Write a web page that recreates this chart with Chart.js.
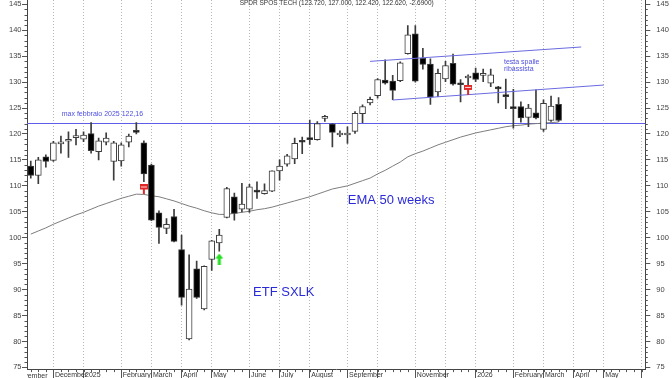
<!DOCTYPE html>
<html><head><meta charset="utf-8">
<script src="https://cdn.jsdelivr.net/npm/chart.js@4.4.1/dist/chart.umd.min.js"></script>
<style>html,body{margin:0;padding:0;background:#fff;}#wrap{width:672px;height:378px;position:relative;overflow:hidden;}</style>
</head><body><div id="wrap"><canvas id="c" width="672" height="378"></canvas></div>
<script>
// ---- data (weekly candles) ----
const openV  = [113.8,112.0,115.6,114.9,118.1,118.6,119.3,119.0,120.1,116.6,118.4,114.7,114.8,118.4,120.6,118.3,114.0,104.8,101.8,104.1,97.7,80.5,94.0,86.3,95.8,99.0,103.9,107.9,105.5,105.5,109.2,108.5,109.0,112.9,114.2,115.2,118.7,119.3,118.9,123.0,121.9,119.8,119.8,120.5,123.9,126.0,127.4,130.4,130.2,130.3,135.5,139.3,134.6,133.5,128.1,130.6,133.6,129.6,130.8,131.8,131.3,129.8,128.9,127.3,124.95,125.3,123.2,124.1,120.9,122.6,125.7];
const highV  = [114.8,115.5,116.0,118.6,119.6,120.4,120.9,120.4,122.2,119.2,120.2,118.6,118.3,120.0,122.2,118.7,114.2,105.2,103.7,105.5,100.5,96.7,95.5,94.6,99.5,101.6,109.7,108.6,110.5,110.3,110.8,110.4,112.9,115.0,116.1,119.2,119.4,122.7,122.4,123.6,122.0,120.6,121.4,124.3,125.6,127.1,130.7,134.3,131.3,133.9,140.9,140.9,136.5,134.5,132.5,134.0,135.4,130.5,131.4,132.7,132.5,132.5,129.2,130.6,128.6,126.2,125.7,128.5,126.6,127.3,127.0];
const lowV   = [111.5,110.4,113.6,114.7,116.3,115.5,117.9,118.5,116.3,115.0,117.9,111.1,113.8,117.5,120.0,110.8,103.3,98.9,100.8,99.2,87.0,80.3,88.3,86.1,93.7,97.4,103.8,103.4,105.0,104.9,107.6,108.4,108.9,111.1,113.8,114.3,116.2,118.0,118.8,122.4,117.5,119.5,118.2,120.1,122.2,125.6,126.9,129.6,126.6,130.1,135.4,130.0,132.5,125.7,127.2,130.1,129.4,126.2,128.5,130.1,130.1,129.1,126.0,124.9,121.1,122.3,121.4,122.9,120.5,122.4,122.4];
const closeV = [112.0,115.0,114.7,118.3,118.4,118.8,119.5,119.8,116.8,118.7,119.2,118.3,117.9,119.6,120.3,112.3,103.4,102.0,102.6,99.3,88.5,90.1,88.5,94.5,99.4,100.5,109.5,104.7,106.5,109.8,108.8,109.1,112.9,113.8,115.8,118.2,118.4,118.9,122.0,123.0,120.3,120.1,119.9,124.0,125.3,126.7,130.5,129.8,128.4,133.7,139.1,130.2,133.4,127.1,131.7,133.2,129.6,129.5,130.9,130.5,131.35,131.4,128.7,127.2,124.9,123.1,125.0,123.1,125.9,125.4,122.6];
const ema50  = [100.7,101.3,101.9,102.6,103.2,103.8,104.4,104.9,105.5,106.1,106.6,107.1,107.6,108.0,108.4,108.35,108.1,107.9,107.5,107.1,106.6,106.1,105.7,105.2,104.8,104.5,104.5,104.7,104.9,105.1,105.4,105.6,105.9,106.3,106.7,107.1,107.5,107.9,108.4,108.9,109.4,109.7,110.0,110.5,111.0,111.5,112.3,113.0,113.8,114.6,115.6,116.2,116.7,117.3,117.9,118.4,118.9,119.4,119.8,120.2,120.5,120.8,121.1,121.4,121.6,121.7,121.9,122.0,122.1,122.2,122.3];
const weekCount = 82;
const gridIdx  = [3,7,12,16,20,24,29,33,37,42,46,51,55,59,64,68,72,76,81];
const gridText = ['December','2025','February','March','April','May','June','July','August','September','','November','','2026','February','March','April','May',''];
const yTickValues = [75,80,85,90,95,100,105,110,115,120,125,130,135,140,145];
const maxFeb = 122.16;
const channelUpper = [[45,134.0],[73,136.77]];
const channelLower = [[48,126.55],[76,129.44]];
const divMarks = [[15,109.3],[58,128.5]];
const arrowMarks = [[25,95.9]];
const titleText = 'SPDR SPOS TECH (123.720, 127.000, 122.420, 122.620, -2.6900)';

// week categories
const weeks = [];
const d0 = Date.UTC(2024,10,11);
for (let i=0;i<weekCount;i++){ weeks.push(new Date(d0 + i*7*864e5).toISOString().slice(0,10)); }

Chart.defaults.font.family = '"Liberation Sans", Arial, sans-serif';

function flagIcon(){ const c=document.createElement('canvas'); c.width=8; c.height=10; const g=c.getContext('2d');
  g.fillStyle='#e02828'; g.fillRect(0,0,8,5); g.fillStyle='#ffdede'; g.fillRect(1,2,6,1); g.fillStyle='#e02828'; g.fillRect(3,5,2,5); return c; }
function arrowIcon(){ const c=document.createElement('canvas'); c.width=8; c.height=11; const g=c.getContext('2d');
  g.fillStyle='#22dd22'; g.beginPath(); g.moveTo(4,0); g.lineTo(8,5); g.lineTo(0,5); g.closePath(); g.fill(); g.fillRect(2.5,5,3,6); return c; }

const bodyData = openV.map((o,i)=>[Math.min(o,closeV[i]), Math.max(o,closeV[i])]);
const bodyFill = openV.map((o,i)=> closeV[i] < o ? '#000000' : '#ffffff');
const wickData = lowV.map((l,i)=>[l, highV[i]]);

const annoTexts = [
  {t:'max febbraio 2025 122,16', i:4.11, v:123.46, f:'7px', c:'#4f4fe0'},
  {t:'testa spalle', i:62.76, v:133.58, f:'7px', c:'#4f4fe0'},
  {t:'ribassista', i:62.76, v:132.14, f:'7px', c:'#4f4fe0'},
  {t:'EMA 50 weeks', i:42.04, v:106.45, f:'13px', c:'#2a2ad8'},
  {t:'ETF SXLK', i:29.48, v:88.75, f:'13px', c:'#2a2ad8'}
];

const decor = {
  id:'decor',
  beforeDatasetsDraw(chart){
    const {ctx, chartArea:a, scales:{y}} = chart;
    const py = Math.round(y.getPixelForValue(maxFeb))+0.5;
    ctx.save(); ctx.strokeStyle='#5c5ce6'; ctx.lineWidth=1;
    ctx.beginPath(); ctx.moveTo(a.left,py); ctx.lineTo(a.right,py); ctx.stroke(); ctx.restore();
  },
  afterDraw(chart){
    const {ctx, chartArea:a, scales:{x,y}} = chart;
    ctx.save();
    ctx.strokeStyle='#555'; ctx.lineWidth=1;
    for (let v=75; v<=145; v++){ if (v%5===0) continue; const py=Math.round(y.getPixelForValue(v))+0.5;
      ctx.beginPath(); ctx.moveTo(a.left,py); ctx.lineTo(a.left-2.5,py); ctx.moveTo(a.right,py); ctx.lineTo(a.right+2.5,py); ctx.stroke(); }
    for (let i=0;i<weekCount;i++){ const px=Math.round(x.getPixelForValue(i))+0.5;
      ctx.beginPath(); ctx.moveTo(px,a.bottom); ctx.lineTo(px,a.bottom+2.5); ctx.stroke(); }
    ctx.textBaseline='alphabetic'; ctx.textAlign='left';
    annoTexts.forEach(o=>{ ctx.font=o.f+' "Liberation Sans", Arial, sans-serif'; ctx.fillStyle=o.c;
      ctx.fillText(o.t, x.getPixelForValue(o.i), y.getPixelForValue(o.v)); });
    ctx.font='6.5px "Liberation Sans", Arial, sans-serif'; ctx.fillStyle='#333'; ctx.textAlign='center';
    ctx.fillText(titleText, (a.left+a.right)/2+0.5, 4.5);
    ctx.beginPath(); ctx.rect(a.left, a.bottom, chart.width-a.left, chart.height-a.bottom); ctx.clip();
    ctx.font='7px "Liberation Sans", Arial, sans-serif'; ctx.fillStyle='#333'; ctx.textAlign='left'; ctx.textBaseline='middle';
    const w = ctx.measureText('Nov').width;
    ctx.fillText('November', a.left+0.7-w, a.bottom+6);
    ctx.restore();
  }
};

const gridSet = new Set(gridIdx);
const noPad = s => { s.paddingTop = 0; s.paddingBottom = 0; };
new Chart(document.getElementById('c'), {
  type:'bar',
  data:{ labels: weeks, datasets:[
    {type:'bar', label:'body', data: bodyData, backgroundColor: bodyFill, borderColor:'#3c3c3c', borderWidth:1, borderSkipped:false, barThickness:6, minBarLength:2, grouped:false, order:3},
    {type:'bar', label:'wick', data: wickData, backgroundColor:'#3c3c3c', borderWidth:0, barThickness:1, grouped:false, order:4},
    {type:'line', label:'EMA', data: ema50, borderColor:'#7d7d7d', borderWidth:1, pointRadius:0, tension:0, order:5},
    {type:'line', label:'up', data: channelUpper.map(p=>({x:weeks[p[0]], y:p[1]})), borderColor:'#6a6ae0', borderWidth:1, pointRadius:0, order:2},
    {type:'line', label:'lo', data: channelLower.map(p=>({x:weeks[p[0]], y:p[1]})), borderColor:'#6a6ae0', borderWidth:1, pointRadius:0, order:2},
    {type:'line', label:'div', data: divMarks.map(p=>({x:weeks[p[0]], y:p[1]})), showLine:false, pointStyle: flagIcon(), pointRadius:4, pointHoverRadius:4, order:1},
    {type:'line', label:'arr', data: arrowMarks.map(p=>({x:weeks[p[0]], y:p[1]})), showLine:false, pointStyle: arrowIcon(), pointRadius:4, pointHoverRadius:4, order:1}
  ]},
  options:{
    responsive:false, animation:false, devicePixelRatio:1,
    layout:{padding:0, autoPadding:false},
    plugins:{legend:{display:false}, tooltip:{enabled:false}, title:{display:false}},
    scales:{
      x:{ type:'category', offset:true,
        grid:{ offset:false, drawOnChartArea:true, lineWidth:1,
          color: c => gridSet.has(c.index) ? '#b8b8b8' : 'rgba(0,0,0,0)',
          tickColor: c => gridSet.has(c.index) ? '#555' : 'rgba(0,0,0,0)', tickLength:9 },
        border:{ display:true, color:'#444', width:1, dash:[1,2] },
        ticks:{ autoSkip:false, maxRotation:0, minRotation:0, align:'start', labelOffset:1.5, padding:-7.3,
          font:{size:7}, color:'#333',
          callback:(v,i)=>{ const k=gridIdx.indexOf(i); return k>=0 ? gridText[k] : ''; } },
        afterFit: s => { s.height = 8.4; s.paddingLeft = 0; s.paddingRight = 0; }
      },
      y:{ type:'linear', position:'left', min:74.58, max:145.83,
        afterBuildTicks: s => { s.ticks = yTickValues.map(v=>({value:v})); },
        grid:{ drawOnChartArea:false, tickLength:5, tickColor:'#555' },
        border:{ color:'#444', width:1 },
        ticks:{ font:{size:7.5}, color:'#444', padding:0.5 },
        afterFit: s => { s.width = 27; noPad(s); }
      },
      y2:{ type:'linear', position:'right', min:74.58, max:145.83,
        afterBuildTicks: s => { s.ticks = yTickValues.map(v=>({value:v})); },
        grid:{ drawOnChartArea:false, tickLength:5, tickColor:'#555' },
        border:{ color:'#444', width:1 },
        ticks:{ font:{size:7.5}, color:'#444', padding:6 },
        afterFit: s => { s.width = 26.7; noPad(s); }
      }
    }
  },
  plugins:[decor]
});
</script></body></html>
